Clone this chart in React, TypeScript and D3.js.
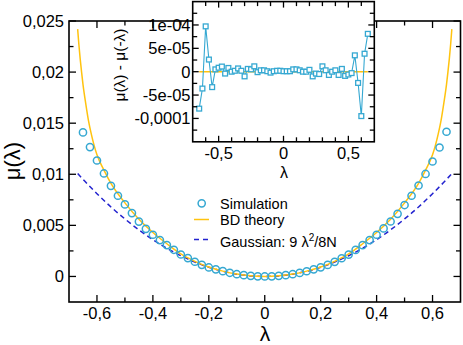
import * as d3 from "d3";

const simLambda = [
  -0.65, -0.625, -0.6, -0.575, -0.55, -0.525, -0.5, -0.475, -0.45, -0.425, -0.4,
  -0.375, -0.35, -0.325, -0.3, -0.275, -0.25, -0.225, -0.2, -0.175, -0.15, -0.125,
  -0.1, -0.075, -0.05, -0.025, 0, 0.025, 0.05, 0.075, 0.1, 0.125, 0.15, 0.175, 0.2,
  0.225, 0.25, 0.275, 0.3, 0.325, 0.35, 0.375, 0.4, 0.425, 0.45, 0.475, 0.5, 0.525,
  0.55, 0.575, 0.6, 0.625, 0.65,
];
const simMu = [
  0.0141, 0.01266, 0.01135, 0.01008, 0.00887, 0.0079, 0.00705, 0.0062, 0.00537,
  0.00466, 0.00408, 0.00356, 0.00307, 0.00261, 0.00215, 0.0018, 0.00144, 0.00114,
  0.00088, 0.0007, 0.00052, 0.00036, 0.00022, 0.00013, 0.00006, 0.00001, 0,
  0.00001, 0.00006, 0.00013, 0.00022, 0.00035, 0.00051, 0.0007, 0.00089, 0.00113,
  0.00143, 0.00178, 0.00214, 0.0026, 0.00306, 0.00356, 0.00408, 0.0047, 0.00538,
  0.00613, 0.00699, 0.0079, 0.0089, 0.01003, 0.01125, 0.01262, 0.01416,
];
// mu(l) - mu(-l), in units of 1e-5
const simDiff = [
  -7.9, -3.6, 9.7, 2.6, -3.3, 0.5, 0.85, 1.1, -0.4, 0.8, 0, 0.2, 0.7, 0.2, -1.0, 0.6,
  0.5, 1.15, -0.1, 0.3, 0.3, 0.1, -0.2, 0.1, 0.2, 0.2, 0.1, 0.1, 0.1, 0.5, 0.5, 0.3,
  0, 0, 0.4, -1.0, -0.4, -0.5, 1.15, 0.3, -0.7, 0, 0.3, -0.7, 0.6, -0.9, -0.6, -0.3,
  3.5, -2.4, -9.5, 3.85, 8.1,
];

const bdLambda = [
  -0.669, -0.665, -0.66, -0.655, -0.65, -0.64, -0.63, -0.62, -0.61, -0.6, -0.575,
  -0.55, -0.5, -0.45, -0.4, -0.35, -0.3, -0.25, -0.2, -0.15, -0.1, -0.05, 0, 0.05,
  0.1, 0.15, 0.2, 0.25, 0.3, 0.35, 0.4, 0.45, 0.5, 0.55, 0.575, 0.6, 0.61, 0.62,
  0.63, 0.64, 0.65, 0.655, 0.66, 0.665, 0.669,
];
const bdMu = [
  0.0242, 0.0228, 0.0213, 0.02, 0.0188, 0.0169, 0.0152, 0.0139, 0.0128, 0.0119,
  0.0104, 0.0091, 0.0072, 0.0056, 0.0043, 0.0032, 0.0022, 0.00148, 0.00092, 0.00052,
  0.00023, 0.00006, 0, 0.00006, 0.00023, 0.00052, 0.00092, 0.00148, 0.0022, 0.0032,
  0.0043, 0.0056, 0.0072, 0.0091, 0.0104, 0.0119, 0.0128, 0.0139, 0.0152, 0.0169,
  0.0188, 0.02, 0.0213, 0.0228, 0.0242,
];

const gaussLambda = [
  -0.669, -0.65, -0.6, -0.55, -0.5, -0.45, -0.4, -0.35, -0.3, -0.25, -0.2, -0.15, -0.1,
  -0.05, 0, 0.05, 0.1, 0.15, 0.2, 0.25, 0.3, 0.35, 0.4, 0.45, 0.5, 0.55, 0.6, 0.65,
  0.669,
];
const gaussMu = [
  0.01007, 0.0095, 0.0081, 0.0068, 0.00563, 0.00456, 0.0036, 0.00276, 0.00203,
  0.00141, 0.0009, 0.00051, 0.000225, 0.000056, 0, 0.000056, 0.000225, 0.00051,
  0.0009, 0.00141, 0.00203, 0.00276, 0.0036, 0.00456, 0.00563, 0.0068, 0.0081,
  0.0095, 0.01007,
];

const insetTheoryLambda = [-0.65, 0.65];
const insetTheoryDiff = [0, 0];

const xTicks = [-0.6, -0.4, -0.2, 0, 0.2, 0.4, 0.6];
const xTickLabels = ["-0,6", "-0,4", "-0,2", "0", "0,2", "0,4", "0,6"];
const xMinor = [-0.5, -0.3, -0.1, 0.1, 0.3, 0.5];
const yTicks = [0, 0.005, 0.01, 0.015, 0.02, 0.025];
const yTickLabels = ["0", "0,005", "0,01", "0,015", "0,02", "0,025"];
const yMinor = [0.0025, 0.0075, 0.0125, 0.0175, 0.0225];

const ixTicks = [-0.5, 0, 0.5];
const ixTickLabels = ["-0,5", "0", "0,5"];
const ixMinor = [-0.6, -0.4, -0.3, -0.2, -0.1, 0.1, 0.2, 0.3, 0.4, 0.6];
const iyTicks = [-1e-4, -5e-5, 0, 5e-5, 1e-4];
const iyTickLabels = ["-0,0001", "-5e-05", "0", "5e-05", "1e-04"];
const iyMinor = [-1.25e-4, -7.5e-5, -2.5e-5, 2.5e-5, 7.5e-5, 1.25e-4];

const W = 463;
const H = 345;
const font = "'Liberation Sans', Arial, Helvetica, sans-serif";
const cyan = "#35a8d2";
const gold = "#ffc30f";
const blue = "#2323cf";

const App = () => {
  const x = d3.scaleLinear().domain([-0.7, 0.7]).range([69, 460.5]);
  const y = d3.scaleLinear().domain([-0.0025, 0.025]).range([302, 21]);
  const xi = d3.scaleLinear().domain([-0.7, 0.7]).range([192.7, 374.3]);
  const yi = d3.scaleLinear().domain([-1.5e-4, 1.5e-4]).range([141.8, 1.6]);

  const bdPath = d3
    .line<number>()
    .x((d) => x(d))
    .y((d, i) => y(bdMu[i]))
    .curve(d3.curveMonotoneX)(bdLambda);
  const gaussPath = d3
    .line<number>()
    .x((d) => x(d))
    .y((d, i) => y(gaussMu[i]))
    .curve(d3.curveMonotoneX)(gaussLambda);
  const diffPath = d3
    .line<number>()
    .x((d) => xi(d))
    .y((d, i) => yi(simDiff[i] * 1e-5))(simLambda);
  const insetTheoryPath = d3
    .line<number>()
    .x((d) => xi(d))
    .y((d, i) => yi(insetTheoryDiff[i]))(insetTheoryLambda);

  const [x0, x1] = x.range();
  const [y0, y1] = y.range();
  const [ix0, ix1] = xi.range();
  const [iy0, iy1] = yi.range();

  // ticks on all four sides, pointing inward
  const frameTicks = (
    sx: d3.ScaleLinear<number, number>,
    sy: d3.ScaleLinear<number, number>,
    major: number[],
    minor: number[],
    yMajor: number[],
    yMin: number[],
    maj: number,
    min: number
  ) => {
    const [a0, a1] = sx.range();
    const [b0, b1] = sy.range();
    const out: JSX.Element[] = [];
    major.concat(minor).forEach((v, i) => {
      const len = i < major.length ? maj : min;
      out.push(<line key={`xb${i}`} x1={sx(v)} x2={sx(v)} y1={b0} y2={b0 - len} />);
      out.push(<line key={`xt${i}`} x1={sx(v)} x2={sx(v)} y1={b1} y2={b1 + len} />);
    });
    yMajor.concat(yMin).forEach((v, i) => {
      const len = i < yMajor.length ? maj : min;
      out.push(<line key={`yl${i}`} x1={a0} x2={a0 + len} y1={sy(v)} y2={sy(v)} />);
      out.push(<line key={`yr${i}`} x1={a1} x2={a1 - len} y1={sy(v)} y2={sy(v)} />);
    });
    return out;
  };

  return (
    <svg
      width={W}
      height={H}
      style={{ position: "absolute", left: 0, top: 0, background: "#fff" }}
      fontFamily={font}
    >
      {/* main plot */}
      <path d={gaussPath ?? ""} fill="none" stroke={blue} strokeWidth={1.5} strokeDasharray="5,3.5" />
      <path d={bdPath ?? ""} fill="none" stroke={gold} strokeWidth={1.5} />
      {simLambda.map((l, i) => (
        <circle key={i} cx={x(l)} cy={y(simMu[i])} r={3.6} fill="none" stroke={cyan} strokeWidth={1.5} />
      ))}
      <g stroke="#000" strokeWidth={1.3}>
        {frameTicks(x, y, xTicks, xMinor, yTicks, yMinor, 7, 4.5)}
      </g>
      <rect x={x0} y={y1} width={x1 - x0} height={y0 - y1} fill="none" stroke="#000" strokeWidth={1.6} />
      <g fontSize={16.5} fill="#000">
        {xTicks.map((v, i) => (
          <text key={i} x={x(v)} y={319} textAnchor="middle">
            {xTickLabels[i]}
          </text>
        ))}
        {yTicks.map((v, i) => (
          <text key={i} x={64} y={y(v)} dy="0.36em" textAnchor="end">
            {yTickLabels[i]}
          </text>
        ))}
      </g>
      <text x={265} y={341} fontSize={21} textAnchor="middle">λ</text>
      <text transform="translate(20,161) rotate(-90)" fontSize={22} textAnchor="middle">μ(λ)</text>

      {/* legend */}
      <circle cx={201.7} cy={203.3} r={3.6} fill="none" stroke={cyan} strokeWidth={1.5} />
      <line x1={194} x2={209} y1={219.5} y2={219.5} stroke={gold} strokeWidth={1.5} />
      <line x1={194} x2={209} y1={239.5} y2={239.5} stroke={blue} strokeWidth={1.5} strokeDasharray="5,4" />
      <g fontSize={14.5} fill="#000">
        <text x={220} y={208.5}>Simulation</text>
        <text x={220} y={224.5}>BD theory</text>
        <text x={220} y={247}>
          Gaussian: 9 λ<tspan dy={-6} fontSize={10}>2</tspan>
          <tspan dy={6}>/8N</tspan>
        </text>
      </g>

      {/* inset */}
      <rect x={ix0} y={iy1} width={ix1 - ix0} height={iy0 - iy1} fill="#fff" />
      <path d={insetTheoryPath ?? ""} fill="none" stroke={gold} strokeWidth={1.5} />
      <path d={diffPath ?? ""} fill="none" stroke={cyan} strokeWidth={1.1} />
      {simLambda.map((l, i) => (
        <rect
          key={i}
          x={xi(l) - 2.4}
          y={yi(simDiff[i] * 1e-5) - 2.4}
          width={4.8}
          height={4.8}
          fill="#fff"
          stroke={cyan}
          strokeWidth={1.3}
        />
      ))}
      <g stroke="#000" strokeWidth={1.3}>
        {frameTicks(xi, yi, ixTicks, ixMinor, iyTicks, iyMinor, 6, 4.5)}
      </g>
      <rect x={ix0} y={iy1} width={ix1 - ix0} height={iy0 - iy1} fill="none" stroke="#000" strokeWidth={1.6} />
      <g fontSize={16.5} fill="#000">
        {ixTicks.map((v, i) => (
          <text key={i} x={xi(v)} y={158.5} textAnchor="middle">
            {ixTickLabels[i]}
          </text>
        ))}
        {iyTicks.map((v, i) => (
          <text key={i} x={190.5} y={yi(v)} dy="0.36em" textAnchor="end">
            {iyTickLabels[i]}
          </text>
        ))}
      </g>
      <text x={284} y={178} fontSize={16} textAnchor="middle">λ</text>
      <text transform="translate(125,65) rotate(-90)" fontSize={15.5} textAnchor="middle">
        μ(λ) - μ(-λ)
      </text>
    </svg>
  );
};

export default App;
